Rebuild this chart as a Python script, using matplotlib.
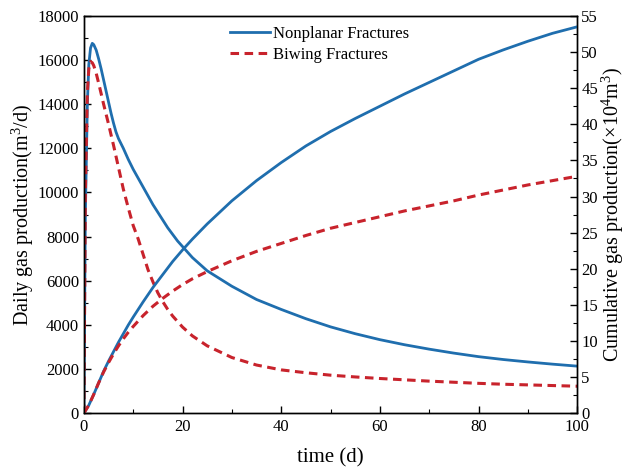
import numpy as np
import matplotlib
matplotlib.use("Agg")
import matplotlib.pyplot as plt
from matplotlib.ticker import MultipleLocator

plt.rcParams['font.family'] = ['Liberation Serif', 'DejaVu Serif']
plt.rcParams['mathtext.fontset'] = 'custom'
plt.rcParams['mathtext.rm'] = 'Liberation Serif'
plt.rcParams['mathtext.default'] = 'regular'

# daily production, m3/d
t_daily = [0, 0.3, 0.7, 1.0, 1.35, 1.7, 2.0, 2.5, 3, 3.5, 4, 4.5, 5, 5.5, 6, 6.5, 7,
           8, 9, 10, 11, 12, 13, 14, 15, 16, 17, 18, 19, 20, 22, 25, 30, 35, 40,
           45, 50, 55, 60, 65, 70, 75, 80, 85, 90, 95, 100]
daily_nonplanar = [0, 9000, 14000, 15800, 16550, 16760, 16700, 16450, 16050, 15600,
                   15100, 14600, 14100, 13600, 13150, 12750, 12450, 12000, 11500,
                   11050, 10650, 10250, 9850, 9450, 9100, 8750, 8400, 8100, 7800,
                   7550, 7050, 6450, 5750, 5150, 4700, 4280, 3910, 3600, 3330,
                   3100, 2900, 2720, 2560, 2430, 2320, 2220, 2130]
daily_biwing = [0, 10000, 14500, 15600, 15930, 15880, 15750, 15400, 14950, 14480,
                14000, 13550, 13100, 12620, 12150, 11650, 11150, 10150, 9300,
                8500, 7900, 7200, 6500, 5950, 5450, 5050, 4700, 4400, 4150,
                3900, 3500, 3050, 2520, 2180, 1960, 1830, 1720, 1640, 1570,
                1510, 1450, 1400, 1350, 1310, 1280, 1250, 1220]

# cumulative production, 10^4 m3
t_cum = [0, 1, 2, 3, 4, 5, 6, 7, 8, 9, 10, 12, 14, 16, 18, 20, 22, 25, 30, 35, 40,
         45, 50, 55, 60, 65, 70, 75, 80, 85, 90, 95, 100]
cum_nonplanar = [0, 1.1, 2.6, 4.2, 5.8, 7.2, 8.5, 9.8, 11.0, 12.2, 13.3, 15.4, 17.4,
                 19.2, 21.0, 22.6, 24.1, 26.2, 29.4, 32.2, 34.7, 37.0, 39.0, 40.8,
                 42.5, 44.2, 45.8, 47.4, 49.0, 50.3, 51.5, 52.6, 53.5]
cum_biwing = [0, 1.1, 2.6, 4.2, 5.7, 7.0, 8.2, 9.3, 10.3, 11.2, 12.0, 13.5, 14.8,
              15.9, 16.9, 17.8, 18.6, 19.6, 21.1, 22.4, 23.5, 24.6, 25.6, 26.4,
              27.2, 28.0, 28.7, 29.4, 30.2, 30.9, 31.6, 32.2, 32.8]

blue = '#1f6eae'
red = '#c8232c'

fig = plt.figure(figsize=(6.26, 4.70), dpi=100)
ax = fig.add_axes([0.134, 0.121, 0.788, 0.845])
ax2 = ax.twinx()

l1, = ax.plot(t_daily, daily_nonplanar, color=blue, lw=2.0, label='Nonplanar Fractures')
l2, = ax.plot(t_daily, daily_biwing, color=red, lw=2.2, dashes=(2.8, 1.8),
              label='Biwing Fractures')
ax2.plot(t_cum, cum_nonplanar, color=blue, lw=2.0)
ax2.plot(t_cum, cum_biwing, color=red, lw=2.2, dashes=(2.8, 1.8))

ax.set_xlim(0, 100)
ax.set_ylim(0, 18000)
ax2.set_ylim(0, 55)

ax.xaxis.set_major_locator(MultipleLocator(20))
ax.xaxis.set_minor_locator(MultipleLocator(10))
ax.yaxis.set_major_locator(MultipleLocator(2000))
ax.yaxis.set_minor_locator(MultipleLocator(1000))
ax2.yaxis.set_major_locator(MultipleLocator(5))
ax2.yaxis.set_minor_locator(MultipleLocator(2.5))

for a in (ax, ax2):
    a.tick_params(which='major', direction='in', length=5, width=1, labelsize=12)
    a.tick_params(which='minor', direction='in', length=3, width=0.8)
    for s in a.spines.values():
        s.set_linewidth(1.0)
ax.tick_params(which='both', top=False, right=False)
ax.tick_params(axis='x', pad=4)
ax2.tick_params(axis='y', pad=3)

ax.set_xlabel('time (d)', fontsize=15, labelpad=10)
ax.set_ylabel('Daily gas production(m$^3$/d)', fontsize=14.5, labelpad=1)
ax2.set_ylabel('Cumulative gas production(×10$^4$m$^3$)', fontsize=14.5, labelpad=1)

ax.legend(handles=[l1, l2], loc='upper left', bbox_to_anchor=(0.296, 0.975),
          frameon=False, fontsize=12, borderpad=0, handlelength=2.4,
          handletextpad=0.2, labelspacing=0.3, borderaxespad=0)

fig.savefig('out.png', dpi=100)
